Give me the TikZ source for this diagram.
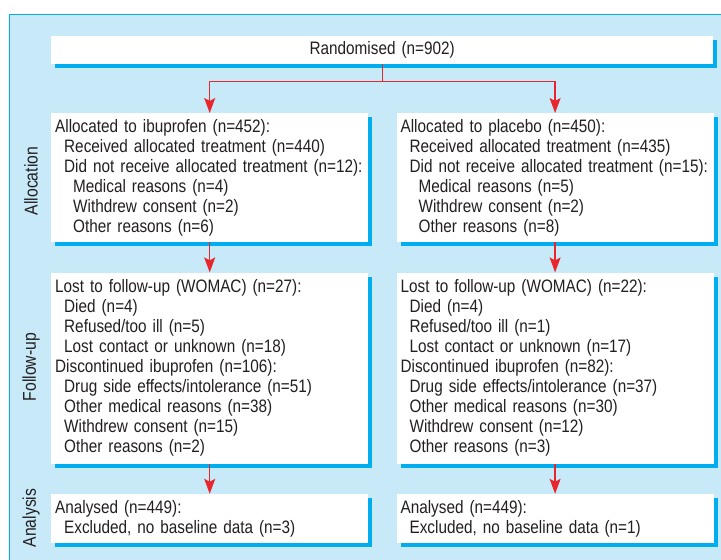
\documentclass[tikz,border=0pt]{standalone}
\usepackage{fontspec}
\newfontfamily\flowfont{Liberation Sans}[FakeStretch=0.85]
\usetikzlibrary{arrows.meta, positioning, shadows}

\definecolor{panelblue}{HTML}{C8E9F8}
\definecolor{edgeblue}{HTML}{00AEEF}
\definecolor{arrowred}{HTML}{E8262C}
\definecolor{inkgrey}{HTML}{231F20}

\newcommand{\subi}{\hspace*{9pt}}
\newcommand{\subii}{\hspace*{18pt}}

\begin{document}
\begin{tikzpicture}[
  x=1pt, y=-1pt,
  node distance=30pt and 28pt,
  box/.style={rectangle, fill=white, text=inkgrey, align=left, text width=309pt, inner xsep=4pt, inner ysep=0pt, font=\flowfont\fontsize{18}{20}\selectfont, drop shadow={shadow xshift=4pt, shadow yshift=-4pt, fill=edgeblue, opacity=1}},
  stage/.style={rotate=90, text=inkgrey, font=\flowfont\fontsize{18.5}{20}\selectfont},
  line/.style={draw=arrowred, line width=1.4pt, -{Stealth[length=15pt, width=11pt, inset=3pt]}},
]
  % ── Panel ──────────────────────────────────
  \useasboundingbox (0,0) rectangle (721,560);
  \clip (0,0) rectangle (721,560);
  \fill[panelblue] (9.5,14.5) rectangle (740,580);
  \draw[edgeblue, line width=1.5pt] (9.5,580) -- (9.5,14.5) -- (740,14.5);

  % ── Randomisation ──────────────────────────
  \node[box, anchor=north west, text width=654pt, align=center, minimum height=28pt] (rand) at (51,36) {Randomised (n=902)};

  % ── Allocation ─────────────────────────────
  \node[box, anchor=north west, minimum height=129pt] (allocI) at (51,113) {Allocated to ibuprofen (n=452):\\ \subi Received allocated treatment (n=440)\\ \subi Did not receive allocated treatment (n=12):\\ \subii Medical reasons (n=4)\\ \subii Withdrew consent (n=2)\\ \subii Other reasons (n=6)};
  \node[box, right=28pt of allocI, minimum height=129pt] (allocP) {Allocated to placebo (n=450):\\ \subi Received allocated treatment (n=435)\\ \subi Did not receive allocated treatment (n=15):\\ \subii Medical reasons (n=5)\\ \subii Withdrew consent (n=2)\\ \subii Other reasons (n=8)};

  % ── Follow-up ──────────────────────────────
  \node[box, below=of allocI, minimum height=191pt] (followI) {Lost to follow-up (WOMAC) (n=27):\\ \subi Died (n=4)\\ \subi Refused/too ill (n=5)\\ \subi Lost contact or unknown (n=18)\\ Discontinued ibuprofen (n=106):\\ \subi Drug side effects/intolerance (n=51)\\ \subi Other medical reasons (n=38)\\ \subi Withdrew consent (n=15)\\ \subi Other reasons (n=2)};
  \node[box, below=of allocP, minimum height=191pt] (followP) {Lost to follow-up (WOMAC) (n=22):\\ \subi Died (n=4)\\ \subi Refused/too ill (n=1)\\ \subi Lost contact or unknown (n=17)\\ Discontinued ibuprofen (n=82):\\ \subi Drug side effects/intolerance (n=37)\\ \subi Other medical reasons (n=30)\\ \subi Withdrew consent (n=12)\\ \subi Other reasons (n=3)};

  % ── Analysis ───────────────────────────────
  \node[box, below=of followI, minimum height=49pt] (analI) {Analysed (n=449):\\ \subi Excluded, no baseline data (n=3)};
  \node[box, below=of followP, minimum height=49pt] (analP) {Analysed (n=449):\\ \subi Excluded, no baseline data (n=1)};

  % ── Stage labels ───────────────────────────
  \node[stage] (lblAlloc) at (31,181) {Allocation};
  \node[stage] (lblFollow) at (31,367) {Follow-up};
  \node[stage] (lblAnal) at (31,518) {Analysis};

  % ── Connections ────────────────────────────
  \coordinate (split) at ([yshift=-17pt]rand.south);
  \draw[line] (rand.south) -- (split) -| (allocI.north);
  \draw[line] (split) -| (allocP.north);
  \draw[line] (allocI.south) -- (followI.north);
  \draw[line] (allocP.south) -- (followP.north);
  \draw[line] (followI.south) -- (analI.north);
  \draw[line] (followP.south) -- (analP.north);

\end{tikzpicture}
\end{document}
